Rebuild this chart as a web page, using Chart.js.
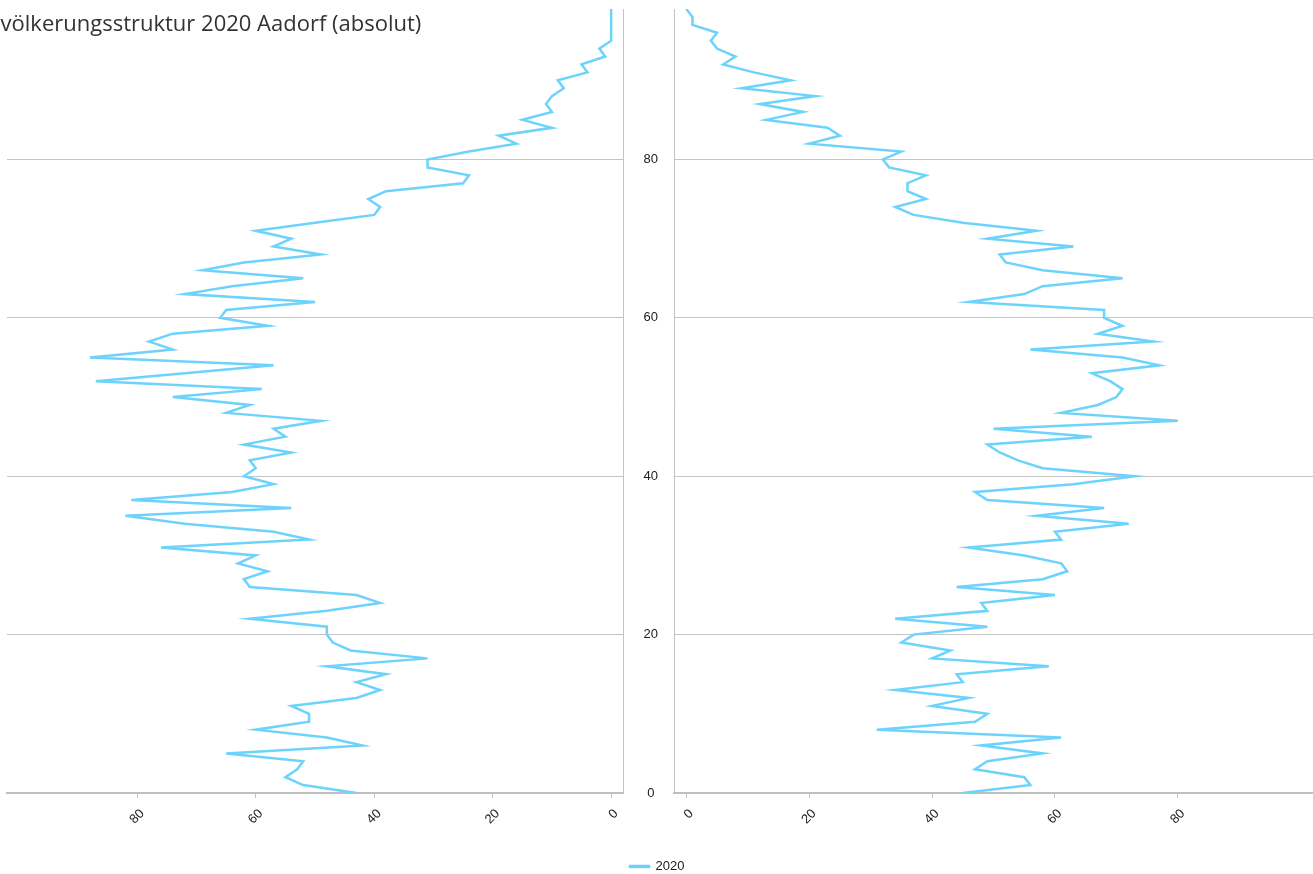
<!DOCTYPE html>
<html>
<head>
<meta charset="utf-8">
<title>Bevölkerungsstruktur 2020 Aadorf</title>
<script src="https://cdn.jsdelivr.net/npm/chart.js@4.4.1/dist/chart.umd.min.js"></script>
<style>
  html, body { margin: 0; padding: 0; background: #fff; overflow: hidden; }
  #wrap { position: relative; width: 1313px; height: 874px; overflow: hidden; }
  #men { position: absolute; left: 0; top: 0; }
  #women { position: absolute; left: 628px; top: 0; }
  #title {
    position: absolute; left: -26px; top: 7px;
    font: 22px "Open Sans", sans-serif; color: #333; white-space: nowrap;
  }
</style>
</head>
<body>
<div id="wrap">
  <canvas id="men" width="628" height="874"></canvas>
  <canvas id="women" width="685" height="883"></canvas>
  <div id="title">Bevölkerungsstruktur 2020 Aadorf (absolut)</div>
</div>
<script>
// ages (y axis)
const ages = [
  0, 1, 2, 3, 4, 5, 6, 7, 8, 9, 10, 11, 12, 13, 14, 15, 16, 17, 18, 19,
  20, 21, 22, 23, 24, 25, 26, 27, 28, 29, 30, 31, 32, 33, 34, 35, 36, 37, 38, 39,
  40, 41, 42, 43, 44, 45, 46, 47, 48, 49, 50, 51, 52, 53, 54, 55, 56, 57, 58, 59,
  60, 61, 62, 63, 64, 65, 66, 67, 68, 69, 70, 71, 72, 73, 74, 75, 76, 77, 78, 79,
  80, 81, 82, 83, 84, 85, 86, 87, 88, 89, 90, 91, 92, 93, 94, 95, 96, 97, 98, 99
];

// left side, age 0 -> 99
const men2020 = [
  43, 52, 55, 53, 52, 65, 42, 48, 60, 51,
  51, 54, 43, 39, 43, 38, 48, 31, 44, 47,
  48, 48, 61, 48, 39, 43, 61, 62, 58, 63,
  60, 76, 51, 57, 72, 82, 54, 81, 64, 57,
  62, 60, 61, 54, 62, 55, 57, 49, 65, 61,
  74, 59, 87, 72, 57, 88, 74, 78, 74, 58,
  66, 65, 50, 72, 64, 52, 69, 62, 49, 57,
  54, 60, 50, 40, 39, 41, 38, 25, 24, 31,
  31, 24, 16, 19, 10, 15, 10, 11, 10, 8,
  9, 4, 5, 1, 2, 0, 0, 0, 0, 0
];

// right side, age 0 -> 99
const women2020 = [
  45, 56, 55, 47, 49, 58, 48, 61, 31, 47,
  49, 40, 46, 34, 45, 44, 59, 40, 43, 35,
  37, 49, 34, 49, 48, 60, 44, 58, 62, 61,
  55, 46, 61, 60, 72, 57, 68, 49, 47, 63,
  73, 58, 54, 51, 49, 66, 50, 80, 61, 67,
  70, 71, 69, 66, 77, 71, 56, 76, 67, 71,
  68, 68, 46, 55, 58, 71, 58, 52, 51, 63,
  49, 57, 45, 37, 34, 39, 36, 36, 39, 33,
  32, 35, 20, 25, 23, 13, 19, 12, 21, 9,
  17, 11, 6, 8, 5, 4, 5, 1, 1, 0
];

const valueTicks = [0, 20, 40, 60, 80];
const ageTicks = [0, 20, 40, 60, 80];
const seriesLabel = '2020';

const lineColor = '#6dd3fb';
const gridColor = '#c4c4c4';
const textColor = '#222';

Chart.defaults.font.family = '"Liberation Sans", Arial, sans-serif';
Chart.defaults.font.size = 13;
Chart.defaults.color = textColor;

function toPoints(values) {
  return values.map((v, i) => ({ x: v, y: ages[i] }));
}

function fixedTicks(list) {
  return scale => { scale.ticks = list.map(v => ({ value: v })); };
}

function dataset(values) {
  return {
    label: seriesLabel,
    data: toPoints(values),
    borderColor: lineColor,
    backgroundColor: lineColor,
    borderWidth: 2.5,
    pointRadius: 0,
    tension: 0
  };
}

function valueAxis(reverse, height) {
  return {
    type: 'linear',
    reverse: reverse,
    min: -2,
    max: 102,
    afterBuildTicks: fixedTicks(valueTicks),
    afterFit: scale => { scale.height = height; },
    grid: { drawOnChartArea: false, drawTicks: true, tickLength: 5, color: gridColor },
    border: { color: '#bfbfbf', width: 2 },
    ticks: { minRotation: 45, maxRotation: 45, labelOffset: 5, padding: 8 }
  };
}

const ageGrid = {
  drawTicks: false,
  color: ctx => (ctx.tick && ctx.tick.value === 0) ? 'rgba(0,0,0,0)' : gridColor
};

this.menChart = new Chart(document.getElementById('men'), {
  type: 'line',
  data: { datasets: [dataset(men2020)] },
  options: {
    responsive: false,
    animation: false,
    indexAxis: 'y',
    layout: { autoPadding: false, padding: { top: 9, left: 7, right: 5, bottom: 0 } },
    plugins: { legend: { display: false }, tooltip: { enabled: false } },
    scales: {
      x: valueAxis(true, 81),
      y: {
        type: 'linear',
        position: 'right',
        min: 0,
        max: 99,
        afterBuildTicks: fixedTicks(ageTicks),
        grid: ageGrid,
        border: { color: gridColor, width: 1 },
        ticks: { display: false }
      }
    }
  }
});

this.womenChart = new Chart(document.getElementById('women'), {
  type: 'line',
  data: { datasets: [dataset(women2020)] },
  options: {
    responsive: false,
    animation: false,
    indexAxis: 'y',
    layout: { autoPadding: false, padding: { top: 9, left: 0, right: 0, bottom: 0 } },
    plugins: {
      legend: {
        display: true,
        position: 'bottom',
        align: 'start',
        labels: { boxWidth: 19, boxHeight: 1, padding: 2, color: textColor }
      },
      tooltip: { enabled: false }
    },
    scales: {
      x: valueAxis(false, 65),
      y: {
        type: 'linear',
        position: 'left',
        min: 0,
        max: 99,
        afterBuildTicks: fixedTicks(ageTicks),
        afterFit: scale => {
          scale.width = 46;
          // labels sit well inside the axis, no extra room needed above/below
          scale.paddingTop = 0;
          scale.paddingBottom = 0;
        },
        grid: ageGrid,
        border: { color: gridColor, width: 1 },
        ticks: { crossAlign: 'center', padding: 16 }
      }
    }
  }
});
</script>
</body>
</html>
